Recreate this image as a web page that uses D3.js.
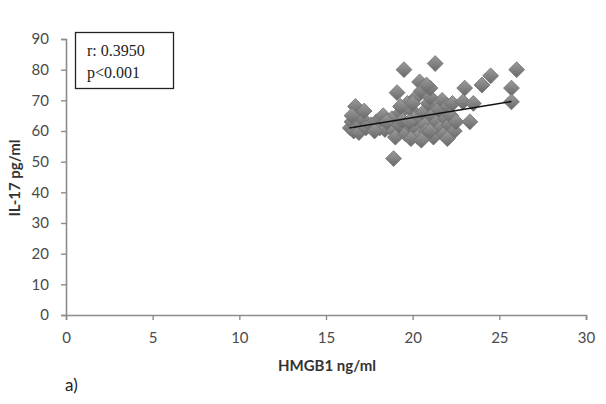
<!DOCTYPE html>
<html>
<head>
<meta charset="utf-8">
<script src="https://cdn.jsdelivr.net/npm/d3@7"></script>
<style>
    body { margin: 0; background: #fff; }
    text { font-family: Lato, "Open Sans", sans-serif; }
</style>
</head>
<body>
<div id="chart"></div>
<script>
'use strict';

// HMGB1 (ng/ml) against IL-17 (pg/ml)
var hmgb1 = [16.4, 16.5, 16.6, 16.8, 16.7, 17.0, 17.1, 16.9, 17.3, 17.2, 16.5,
    17.6, 17.9, 18.1, 18.2, 18.4, 18.6, 18.3, 18.8, 18.9, 19.0, 18.9, 19.2, 19.3,
    19.1, 19.5, 19.4, 19.6, 19.7, 19.9, 20.0, 20.1, 20.2, 20.3, 20.4, 20.5, 20.6,
    20.7, 20.8, 20.9, 21.0, 21.1, 21.2, 21.3, 21.4, 21.5, 21.6, 21.7, 21.8, 21.9,
    22.0, 22.1, 22.2, 22.4, 21.0, 20.8, 20.0, 19.8, 19.9, 20.5, 21.0, 22.0, 22.5,
    22.3, 23.0, 22.9, 23.5, 23.3, 24.0, 24.5, 25.7, 25.7, 26.0, 17.8, 18.5, 19.3];
var il17 = [61, 63, 60, 66, 68, 62, 64, 59.5, 61, 66.5, 65,
    62, 63, 61, 64, 60.5, 62.5, 65, 64, 60, 58, 51, 62, 66,
    72.5, 80, 63.5, 59, 69, 67, 61, 64, 71, 58, 76, 73, 66,
    62, 60, 69, 71, 65, 58, 82, 63, 67, 61, 70, 59, 64,
    68, 62, 65, 60, 74, 75, 69, 63, 57.5, 57, 60, 57.5, 63,
    69, 74, 69.5, 69, 63, 75, 78, 74, 69.5, 80, 60, 63, 68];

// trend line end points
var trendX = [16.35, 25.7];
var trendY = [61, 69.6];

var xTicks = [0, 5, 10, 15, 20, 25, 30];
var yTicks = [0, 10, 20, 30, 40, 50, 60, 70, 80, 90];

var WIDTH = 606;
var HEIGHT = 404;

var svg = d3.select("#chart").append("svg")
    .attr("width", WIDTH)
    .attr("height", HEIGHT);

var x = d3.scaleLinear().domain([0, 30]).range([66, 586]);
var y = d3.scaleLinear().domain([0, 90]).range([315, 39]);

var defs = svg.append("defs");
var grad = defs.append("linearGradient")
    .attr("id", "dia")
    .attr("x1", 0).attr("y1", 0).attr("x2", 0).attr("y2", 1);
grad.append("stop").attr("offset", "0%").attr("stop-color", "#9c9c9c");
grad.append("stop").attr("offset", "55%").attr("stop-color", "#808080");
grad.append("stop").attr("offset", "100%").attr("stop-color", "#686868");

defs.append("filter").attr("id", "soft")
    .append("feGaussianBlur").attr("stdDeviation", 0.6);

// axes
var xAxis = svg.append("g")
    .attr("transform", "translate(0," + y(0) + ")")
    .call(d3.axisBottom(x).tickValues(xTicks).tickSize(5).tickPadding(12));
var yAxis = svg.append("g")
    .attr("transform", "translate(" + x(0) + ",0)")
    .call(d3.axisLeft(y).tickValues(yTicks).tickSize(5).tickPadding(12));

[xAxis, yAxis].forEach(function (g) {
    g.select(".domain").attr("stroke", "#8c8c8c").attr("stroke-width", 1.6);
    g.selectAll(".tick line").attr("stroke", "#8c8c8c").attr("stroke-width", 1.4);
    g.selectAll(".tick text")
        .attr("fill", "#4a4a4a")
        .style("font-size", "15px")
        .style("font-family", "Lato, 'Open Sans', sans-serif");
});

// points
var points = hmgb1.map(function (v, i) { return [v, il17[i]]; });
var diamond = d3.symbol().type(d3.symbolDiamond2).size(160);

svg.append("g").selectAll("path")
    .data(points)
    .enter().append("path")
    .attr("d", diamond)
    .attr("transform", function (d) { return "translate(" + x(d[0]) + "," + y(d[1]) + ")"; })
    .attr("fill", "url(#dia)")
    .attr("stroke", "#6e6e6e")
    .attr("stroke-width", 0.8)
    .attr("filter", "url(#soft)");

svg.append("line")
    .attr("x1", x(trendX[0]))
    .attr("y1", y(trendY[0]))
    .attr("x2", x(trendX[1]))
    .attr("y2", y(trendY[1]))
    .attr("stroke", "#111")
    .attr("stroke-width", 1.6);

// stats box
svg.append("rect")
    .attr("x", 75.5).attr("y", 32.5)
    .attr("width", 98).attr("height", 56)
    .attr("fill", "#fff")
    .attr("stroke", "#222")
    .attr("stroke-width", 1.3);
svg.append("text")
    .attr("x", 87).attr("y", 56)
    .style("font-family", "'Liberation Serif', serif")
    .style("font-size", "16px")
    .attr("fill", "#222")
    .text("r: 0.3950");
svg.append("text")
    .attr("x", 87).attr("y", 78)
    .style("font-family", "'Liberation Serif', serif")
    .style("font-size", "16px")
    .attr("fill", "#222")
    .text("p<0.001");

// axis titles
svg.append("text")
    .attr("transform", "translate(20,178) rotate(-90)")
    .attr("text-anchor", "middle")
    .style("font-size", "15px")
    .style("font-weight", "bold")
    .attr("fill", "#333")
    .text("IL-17 pg/ml");
svg.append("text")
    .attr("x", 327).attr("y", 371)
    .attr("text-anchor", "middle")
    .style("font-size", "15px")
    .style("font-weight", "bold")
    .attr("fill", "#333")
    .text("HMGB1 ng/ml");
svg.append("text")
    .attr("x", 65).attr("y", 391)
    .style("font-size", "17px")
    .attr("fill", "#222")
    .text("a)");
</script>
</body>
</html>
